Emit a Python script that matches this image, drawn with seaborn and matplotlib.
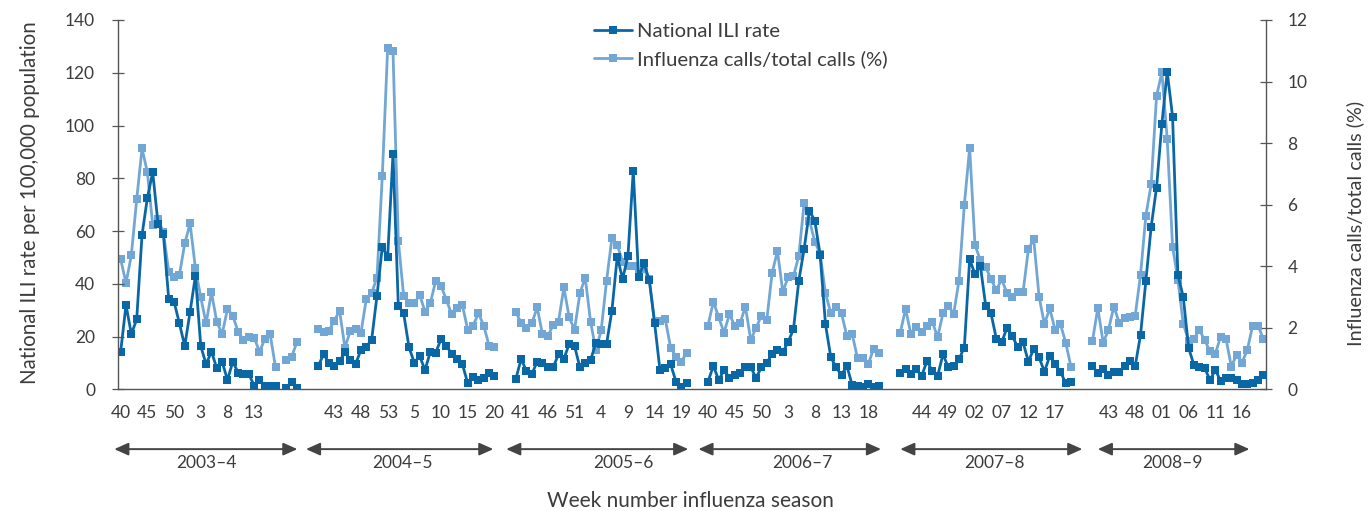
import numpy as np
import pandas as pd
import matplotlib
matplotlib.use('Agg')
import matplotlib.pyplot as plt
import seaborn as sns
from matplotlib.lines import Line2D

# Season names and the number of weeks each one covers (week 40 to week ~20)
seasons = ['2003–4', '2004–5', '2005–6', '2006–7', '2007–8', '2008–9']

# National ILI rate per 100,000 (None = no data)
ili_2003 = [14.3, 32.0, 20.9, 26.5, 58.5, 72.6, 82.3, 62.7, 58.8, 34.2, 33.2, 25.0, 16.4, 29.4, 43.0, 16.4, 9.5,
            14.3, 8.0, 10.5, 3.5, 10.5, 6.3, 5.7, 5.7, 1.4, 3.5, 1.4, 1.4, 1.4, None, 0.4, 2.9, 0.4]
ili_2004 = [8.8, 13.3, 10.1, 8.9, 10.7, 14.0, 11.1, 9.6, 14.9, 16.2, 18.7, 35.4, 54.1, 50.0, 89.2, 31.7, 28.8,
            15.9, 10.1, 12.6, 7.3, 14.3, 13.9, 19.0, 16.5, 13.4, 11.5, 9.5, 2.3, 4.8, 3.5, 4.2, 6.1, 5.0]
ili_2005 = [3.9, 11.5, 6.9, 5.7, 10.5, 10.1, 8.3, 8.3, 13.3, 11.5, 17.2, 16.5, 8.3, 10.1, 11.1, 17.5, 17.2,
            17.2, 29.8, 50.3, 41.8, 50.5, 82.8, 42.5, 47.8, 41.4, 25.0, 7.3, 8.0, 9.5, 2.9, 1.0, 2.3]
ili_2006 = [2.9, 8.9, 3.5, 7.3, 4.4, 5.4, 6.3, 8.3, 8.3, 4.4, 8.3, 10.1, 13.3, 14.9, 14.0, 18.0, 22.7,
            41.1, 53.2, 67.7, 63.9, 51.0, 24.6, 12.1, 8.3, 5.4, 8.9, 1.6, 1.4, 0.8, 1.9, 0.8, 1.4]
ili_2007 = [6.1, 7.6, 5.7, 7.6, 5.0, 10.7, 6.9, 5.0, 13.3, 8.3, 8.8, 11.5, 15.8, 49.3, 43.6, 46.9, 31.7,
            28.8, 19.1, 17.8, 23.4, 20.2, 15.9, 17.8, 10.5, 15.3, 12.1, 6.7, 12.6, 9.5, 6.7, 2.3, 2.9]
ili_2008 = [8.8, 6.1, 7.6, 5.4, 6.7, 6.7, 8.8, 10.7, 8.8, 20.6, 41.1, 61.7, 76.5, 100.6, 120.4, 103.4, 43.3,
            35.1, 15.8, 9.2, 8.3, 8.2, 3.5, 7.3, 3.3, 4.2, 4.2, 3.5, 2.0, 2.0, 2.5, 3.5, 5.4]

# Influenza calls / total calls (%)
calls_2003 = [4.23, 3.45, 4.36, 6.17, 7.83, 7.05, 5.34, 5.52, 5.10, 3.82, 3.64, 3.71, 4.74, 5.39, 3.93, 2.99, 2.14,
              3.15, 2.20, 1.79, 2.61, 2.39, 1.87, 1.60, 1.69, 1.68, 1.22, 1.63, 1.79, 0.71, None, 0.95, 1.04, 1.53]
calls_2004 = [1.96, 1.87, 1.90, 2.23, 2.55, 1.35, 1.90, 1.96, 1.84, 2.93, 3.12, 3.63, 6.93, 11.08, 11.0, 4.83, 3.03,
              2.80, 2.80, 3.07, 2.52, 2.80, 3.53, 3.36, 2.90, 2.44, 2.63, 2.74, 1.93, 2.07, 2.47, 2.07, 1.41, 1.37]
calls_2005 = [2.50, 2.17, 2.00, 2.14, 2.66, 1.79, 1.73, 2.09, 2.20, 3.31, 2.34, 1.93, 3.12, 3.63, 2.20, 1.27, 1.93,
              3.53, 4.91, 4.69, 4.15, 4.02, 4.02, 3.76, 3.90, 3.57, 2.20, 2.23, 2.27, 1.35, 1.06, 0.90, 1.19]
calls_2006 = [2.07, 2.85, 2.34, 1.84, 2.44, 2.07, 2.14, 2.69, 1.60, 2.00, 2.39, 2.25, 3.77, 4.50, 3.17, 3.64, 3.68,
              4.33, 6.06, 5.48, 4.80, 4.40, 3.12, 2.47, 2.69, 2.47, 1.73, 1.79, 1.01, 1.01, 0.81, 1.31, 1.19]
calls_2007 = [1.84, 2.61, 1.79, 2.01, 1.87, 2.06, 2.20, 1.69, 2.47, 2.72, 2.45, 3.53, 5.99, 7.85, 4.69, 4.20, 3.98,
              3.57, 3.23, 3.57, 3.12, 2.99, 3.15, 3.15, 4.56, 4.87, 3.01, 2.12, 2.63, 1.93, 2.12, 1.51, 0.71]
calls_2008 = [1.57, 2.64, 1.52, 1.93, 2.69, 2.17, 2.31, 2.36, 2.39, 3.72, 5.64, 6.67, 9.52, 10.31, 8.13, 4.64, 3.56,
              2.13, 1.58, 1.63, 1.93, 1.61, 1.23, 1.15, 1.71, 1.65, 0.74, 1.12, 0.87, 1.28, 2.07, 2.07, 1.64]

# week labels, one every 5 category positions
tick_labels = ['40', '45', '50', '3', '8', '13', '', '',
               '43', '48', '53', '5', '10', '15', '20',
               '41', '46', '51', '4', '9', '14', '19',
               '40', '45', '50', '3', '8', '13', '18', '',
               '44', '49', '02', '07', '12', '17', '',
               '43', '48', '01', '06', '11', '16']

ili = [ili_2003, ili_2004, ili_2005, ili_2006, ili_2007, ili_2008]
calls = [calls_2003, calls_2004, calls_2005, calls_2006, calls_2007, calls_2008]

GAP = 3  # empty categories between seasons


def long_form(series_list):
    rows = []
    pos = 0
    seg = 0
    for vals in series_list:
        for v in vals:
            if v is None:
                seg += 1
            else:
                rows.append((pos, v, seg))
            pos += 1
        seg += 1
        pos += GAP
    return pd.DataFrame(rows, columns=['pos', 'value', 'segment']), pos - GAP


df_ili, n_pos = long_form(ili)
df_calls, _ = long_form(calls)

dark = '#0a67a6'
light = '#71a6d5'
grey = '#555555'
txt = '#3c3c3c'

sns.set_style('white')
plt.rcParams['font.family'] = ['Lato', 'DejaVu Sans']

fig = plt.figure(figsize=(13.68, 5.11), dpi=100)
ax = fig.add_axes([118 / 1368, 1 - 389.3 / 511, (1266 - 118) / 1368, (389.3 - 20) / 511])
ax2 = ax.twinx()

sns.lineplot(data=df_calls, x='pos', y='value', units='segment', estimator=None, ax=ax2,
             color=light, lw=2.0, marker='s', markersize=5.8, markeredgewidth=0, legend=False)
sns.lineplot(data=df_ili, x='pos', y='value', units='segment', estimator=None, ax=ax,
             color=dark, lw=2.0, marker='s', markersize=5.8, markeredgewidth=0, legend=False)

ax.set_zorder(ax2.get_zorder() + 1)
ax.patch.set_visible(False)

ax.set_xlim(-0.5, n_pos - 0.5)
ax.set_ylim(0, 140)
ax2.set_ylim(0, 12)
ax.set_yticks(range(0, 141, 20))
ax2.set_yticks(range(0, 13, 2))
ax.set_xticks(range(0, n_pos, 5))
ax.set_xticklabels(tick_labels)
ax.set_xticks(range(n_pos), minor=True)

for a in (ax, ax2):
    for s in a.spines.values():
        s.set_visible(False)
        s.set_color(grey)
        s.set_linewidth(1.0)
ax.spines['left'].set_visible(True)
ax.spines['bottom'].set_visible(True)
ax2.spines['right'].set_visible(True)

ax.tick_params(axis='x', which='both', direction='inout', length=7, width=0.9, color=grey,
               labelsize=12.5, labelcolor=txt, pad=8)
ax.tick_params(axis='y', direction='inout', length=9, width=0.9, color=grey,
               labelsize=12.5, labelcolor=txt, pad=12, left=True)
ax2.tick_params(axis='y', direction='inout', length=9, width=0.9, color=grey,
                labelsize=12.5, labelcolor=txt, pad=11, right=True)
ax.set_xlabel('')
ax.set_ylabel('')
ax2.set_ylabel('')

fig.text(30 / 1368, 1 - 203 / 511, 'National ILI rate per 100,000 population', rotation=90,
         ha='center', va='center', fontsize=14.8, color=txt)
fig.text(1355 / 1368, 1 - 223 / 511, 'Influenza calls/total calls (%)', rotation=90,
         ha='center', va='center', fontsize=14.3, color=txt)
fig.text(690 / 1368, 1 - 501 / 511, 'Week number influenza season', ha='center', va='center',
         fontsize=15, color=txt)

# season arrows under the axis
arrow_ends = [(-1.2, 33.1), (34.7, 69.8), (72.2, 106.3), (108.2, 142.4), (146.0, 180.1), (183.0, 211.4)]
label_x = [16.0, 52.7, 94.1, 127.6, 163.6, 197.0]
trans = ax.get_xaxis_transform()
for name, (x0, x1), lx in zip(seasons, arrow_ends, label_x):
    ax.annotate('', xy=(x1, -0.162), xytext=(x0, -0.162), xycoords=trans, textcoords=trans,
                arrowprops=dict(arrowstyle='<|-|>,head_length=0.85,head_width=0.38', color='#444444',
                                lw=1.4, mutation_scale=10, shrinkA=0, shrinkB=0),
                annotation_clip=False)
    ax.text(lx, -0.2, name, transform=trans, ha='center', va='center', fontsize=12.5, color=txt)

handles = [Line2D([], [], color=dark, lw=2.0, marker='s', markersize=5.8, markeredgewidth=0),
           Line2D([], [], color=light, lw=2.0, marker='s', markersize=5.8, markeredgewidth=0)]
fig.legend(handles, ['National ILI rate', 'Influenza calls/total calls (%)'], loc='upper left',
           bbox_to_anchor=(586 / 1368, 1 - 15 / 511), frameon=False, fontsize=14.6, labelcolor=txt,
           handlelength=1.85, handletextpad=0.25, labelspacing=0.5, borderaxespad=0)

fig.savefig('out.png', dpi=100)
